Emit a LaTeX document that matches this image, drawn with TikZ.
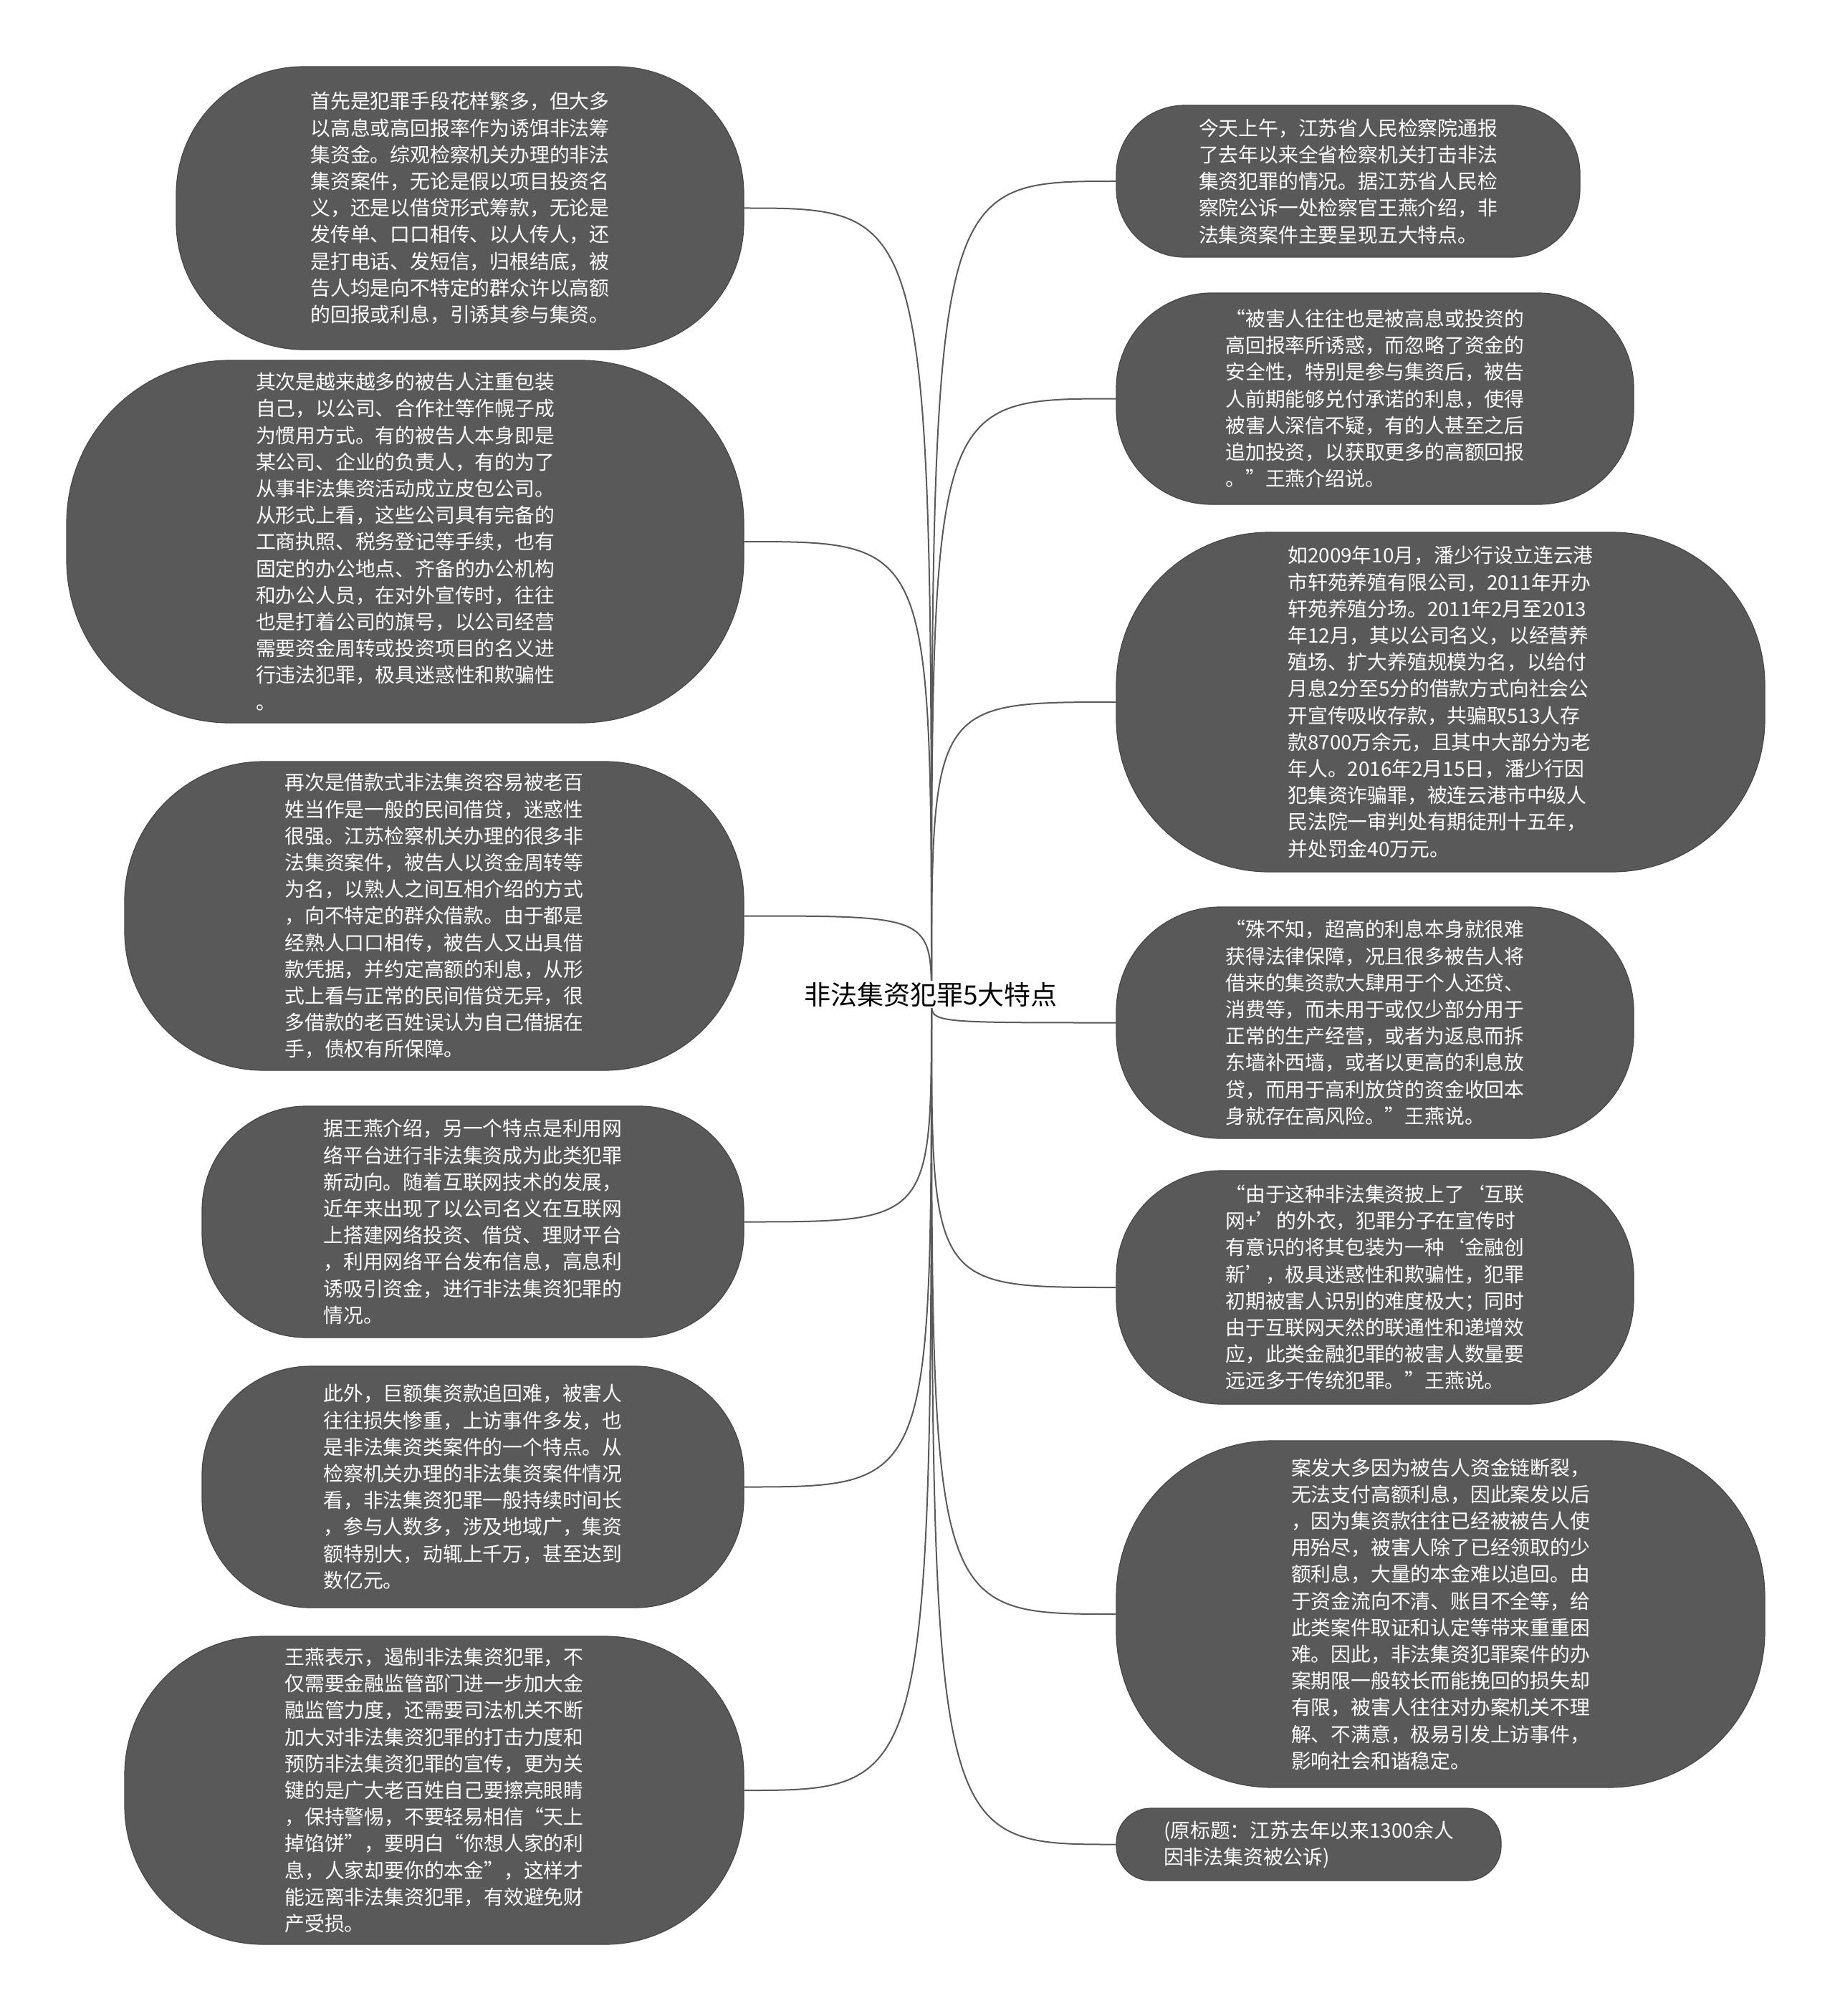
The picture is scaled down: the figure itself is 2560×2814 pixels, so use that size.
\documentclass[tikz,border=0pt]{standalone}
\usepackage{fontspec}
\newfontfamily\cjk{Noto Sans CJK SC}
\usetikzlibrary{backgrounds}
\definecolor{nodefill}{HTML}{595959}
\definecolor{nodeline}{HTML}{474747}
\definecolor{linkcol}{HTML}{5A5A5A}
\newcommand\myoq{\makebox[1em][r]{“}}
\newcommand\mycq{\makebox[1em][l]{”}}
\newcommand\myosq{\makebox[1em][r]{‘}}
\newcommand\mycsq{\makebox[1em][l]{’}}
\tikzset{
  topic/.style={rectangle, fill=nodefill, draw=nodeline, line width=0.6pt,
    text=white, align=left, inner sep=0pt,
    font=\cjk\fontsize{13.9pt}{18.6pt}\selectfont},
  rootstyle/.style={fill=white, inner sep=1pt, text=black,
    font=\cjk\fontsize{18.5pt}{22pt}\selectfont},
  curvelink/.style={draw=linkcol, line width=1pt,
    to path={.. controls (\tikztostart |- \tikztotarget) and (\tikztostart |- \tikztotarget) .. (\tikztotarget)}}
}
\begin{document}
\begin{tikzpicture}[x=0.5pt,y=-0.5pt]
\useasboundingbox (0,0) rectangle (2560,2814);
\begin{scope}[on background layer]
\fill[white] (0,0) rectangle (2560,2814);
\end{scope}

% ---------- left nodes ----------
\node[topic, minimum width=396pt, minimum height=197.5pt, rounded corners=88.9pt] (L1) at (642,290.5) {%
首先是犯罪手段花样繁多，但大多\\
以高息或高回报率作为诱饵非法筹\\
集资金。综观检察机关办理的非法\\
集资案件，无论是假以项目投资名\\
义，还是以借贷形式筹款，无论是\\
发传单、口口相传、以人传人，还\\
是打电话、发短信，归根结底，被\\
告人均是向不特定的群众许以高额\\
的回报或利息，引诱其参与集资。};

\node[topic, minimum width=472.5pt, minimum height=253pt, rounded corners=113.9pt] (L2) at (565.5,756) {%
其次是越来越多的被告人注重包装\\
自己，以公司、合作社等作幌子成\\
为惯用方式。有的被告人本身即是\\
某公司、企业的负责人，有的为了\\
从事非法集资活动成立皮包公司。\\
从形式上看，这些公司具有完备的\\
工商执照、税务登记等手续，也有\\
固定的办公地点、齐备的办公机构\\
和办公人员，在对外宣传时，往往\\
也是打着公司的旗号，以公司经营\\
需要资金周转或投资项目的名义进\\
行违法犯罪，极具迷惑性和欺骗性\\
。};

\node[topic, minimum width=432pt, minimum height=215.5pt, rounded corners=97pt] (L3) at (606,1278.5) {%
再次是借款式非法集资容易被老百\\
姓当作是一般的民间借贷，迷惑性\\
很强。江苏检察机关办理的很多非\\
法集资案件，被告人以资金周转等\\
为名，以熟人之间互相介绍的方式\\
，向不特定的群众借款。由于都是\\
经熟人口口相传，被告人又出具借\\
款凭据，并约定高额的利息，从形\\
式上看与正常的民间借贷无异，很\\
多借款的老百姓误认为自己借据在\\
手，债权有所保障。};

\node[topic, minimum width=378pt, minimum height=161.5pt, rounded corners=72.7pt] (L4) at (660,1705.5) {%
据王燕介绍，另一个特点是利用网\\
络平台进行非法集资成为此类犯罪\\
新动向。随着互联网技术的发展，\\
近年来出现了以公司名义在互联网\\
上搭建网络投资、借贷、理财平台\\
，利用网络平台发布信息，高息利\\
诱吸引资金，进行非法集资犯罪的\\
情况。};

\node[topic, minimum width=378pt, minimum height=168.5pt, rounded corners=75.8pt] (L5) at (660,2075.5) {%
此外，巨额集资款追回难，被害人\\
往往损失惨重，上访事件多发，也\\
是非法集资类案件的一个特点。从\\
检察机关办理的非法集资案件情况\\
看，非法集资犯罪一般持续时间长\\
，参与人数多，涉及地域广，集资\\
额特别大，动辄上千万，甚至达到\\
数亿元。};

\node[topic, minimum width=432pt, minimum height=215pt, rounded corners=96.8pt] (L6) at (606,2499) {%
王燕表示，遏制非法集资犯罪，不\\
仅需要金融监管部门进一步加大金\\
融监管力度，还需要司法机关不断\\
加大对非法集资犯罪的打击力度和\\
预防非法集资犯罪的宣传，更为关\\
键的是广大老百姓自己要擦亮眼睛\\
，保持警惕，不要轻易相信\myoq 天上\\
掉馅饼\mycq ，要明白\myoq 你想人家的利\\
息，人家却要你的本金\mycq ，这样才\\
能远离非法集资犯罪，有效避免财\\
产受损。};

% ---------- right nodes ----------
\node[topic, minimum width=323.5pt, minimum height=106pt, rounded corners=47.7pt] (R1) at (1881.5,253) {%
今天上午，江苏省人民检察院通报\\
了去年以来全省检察机关打击非法\\
集资犯罪的情况。据江苏省人民检\\
察院公诉一处检察官王燕介绍，非\\
法集资案件主要呈现五大特点。};

\node[topic, minimum width=361pt, minimum height=147.5pt, rounded corners=66.4pt] (R2) at (1919,556.5) {%
\myoq 被害人往往也是被高息或投资的\\
高回报率所诱惑，而忽略了资金的\\
安全性，特别是参与集资后，被告\\
人前期能够兑付承诺的利息，使得\\
被害人深信不疑，有的人甚至之后\\
追加投资，以获取更多的高额回报\\
。\mycq 王燕介绍说。};

\node[topic, minimum width=452.5pt, minimum height=237pt, rounded corners=106.7pt] (R3) at (2010.5,980) {%
如2009年10月，潘少行设立连云港\\
市轩苑养殖有限公司，2011年开办\\
轩苑养殖分场。2011年2月至2013\\
年12月，其以公司名义，以经营养\\
殖场、扩大养殖规模为名，以给付\\
月息2分至5分的借款方式向社会公\\
开宣传吸收存款，共骗取513人存\\
款8700万余元，且其中大部分为老\\
年人。2016年2月15日，潘少行因\\
犯集资诈骗罪，被连云港市中级人\\
民法院一审判处有期徒刑十五年，\\
并处罚金40万元。};

\node[topic, minimum width=361pt, minimum height=161.5pt, rounded corners=72.7pt] (R4) at (1919,1427.5) {%
\myoq 殊不知，超高的利息本身就很难\\
获得法律保障，况且很多被告人将\\
借来的集资款大肆用于个人还贷、\\
消费等，而未用于或仅少部分用于\\
正常的生产经营，或者为返息而拆\\
东墙补西墙，或者以更高的利息放\\
贷，而用于高利放贷的资金收回本\\
身就存在高风险。\mycq 王燕说。};

\node[topic, minimum width=361pt, minimum height=163pt, rounded corners=73.4pt] (R5) at (1919,1797) {%
\myoq 由于这种非法集资披上了\myosq 互联\\
网+\mycsq 的外衣，犯罪分子在宣传时\\
有意识的将其包装为一种\myosq 金融创\\
新\mycsq ，极具迷惑性和欺骗性，犯罪\\
初期被害人识别的难度极大；同时\\
由于互联网天然的联通性和递增效\\
应，此类金融犯罪的被害人数量要\\
远远多于传统犯罪。\mycq 王燕说。};

\node[topic, minimum width=452.5pt, minimum height=242pt, rounded corners=108.9pt] (R6) at (2010.5,2253) {%
案发大多因为被告人资金链断裂，\\
无法支付高额利息，因此案发以后\\
，因为集资款往往已经被被告人使\\
用殆尽，被害人除了已经领取的少\\
额利息，大量的本金难以追回。由\\
于资金流向不清、账目不全等，给\\
此类案件取证和认定等带来重重困\\
难。因此，非法集资犯罪案件的办\\
案期限一般较长而能挽回的损失却\\
有限，被害人往往对办案机关不理\\
解、不满意，极易引发上访事件，\\
影响社会和谐稳定。};

\node[topic, minimum width=268.5pt, minimum height=50.5pt, rounded corners=24pt] (R7) at (1826.5,2574.5) {%
(原标题：江苏去年以来1300余人\\
因非法集资被公诉)};

% ---------- connectors ----------
\coordinate (hub) at (1300,1400);
\begin{scope}[on background layer]
\foreach \n in {L1,L2,L3,L4,L5,L6}
  \draw[curvelink] (hub) to (\n.east);
\foreach \n in {R1,R2,R3,R4,R5,R6,R7}
  \draw[curvelink] (hub) to (\n.west);
\end{scope}

% ---------- root ----------
\node[rootstyle] (root) at (1299,1388) {非法集资犯罪5大特点};
\end{tikzpicture}
\end{document}
